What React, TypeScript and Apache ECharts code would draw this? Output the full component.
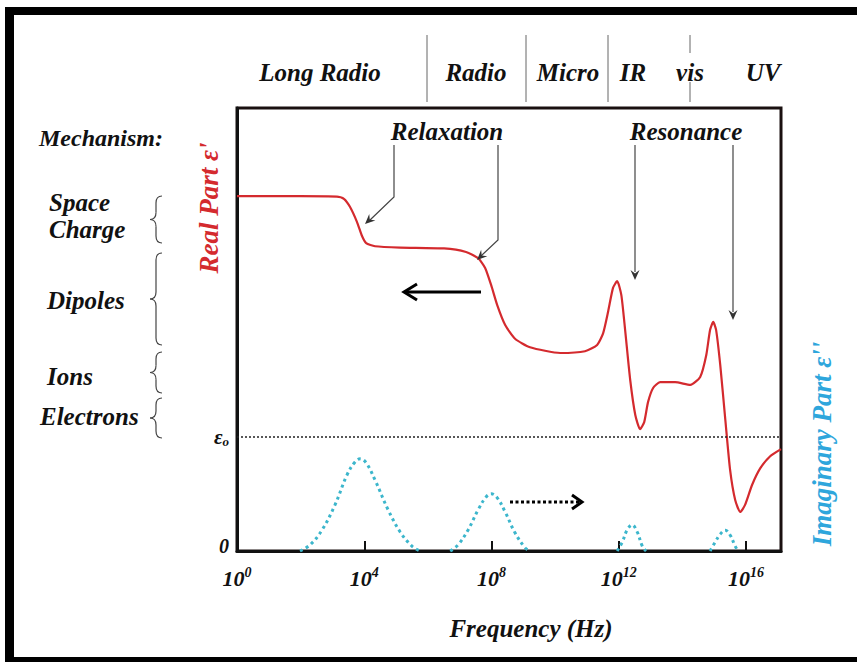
import React, { useEffect, useRef } from 'react';
import * as echarts from 'echarts';

// Frequency axis is in log10(Hz) exponents
const xTickExponents = [0, 4, 8, 12, 16];
const EPS0 = 25.7; // vacuum permittivity level (arbitrary units)

// Real part ε'
const realX = [0, 1.98, 3.14, 3.36, 3.55, 3.77, 3.93, 4.06, 4.34, 5.13, 6.51, 7.2, 7.58, 7.8, 7.99, 8.18, 8.43, 8.74, 9.21, 10.16, 10.94, 11.32, 11.51, 11.67, 11.82, 11.95, 12.08, 12.2, 12.36, 12.52, 12.67, 12.8, 12.92, 13.08, 13.3, 13.77, 14.25, 14.56, 14.75, 14.87, 14.97, 15.06, 15.19, 15.35, 15.5, 15.66, 15.82, 15.97, 16.19, 16.45, 16.76, 17.1];
const realY = [80.1, 80.1, 80.0, 79.5, 77.7, 74.3, 71.1, 69.5, 68.8, 68.5, 68.3, 67.5, 66.1, 63.9, 60.0, 55.5, 51.0, 47.9, 46.0, 44.7, 45.1, 46.5, 49.2, 54.2, 59.4, 60.9, 57.8, 49.9, 38.6, 30.7, 27.5, 29.1, 33.6, 36.8, 38.1, 38.1, 37.5, 39.3, 44.2, 49.9, 51.7, 49.9, 42.0, 29.6, 18.3, 11.5, 8.8, 10.4, 14.9, 18.7, 21.4, 23.0];

// Imaginary part ε'' (loss peaks)
const spaceChargeLossX = [1.98, 2.3, 2.67, 3.08, 3.46, 3.71, 3.87, 4.06, 4.34, 4.75, 5.13, 5.5, 5.75];
const spaceChargeLossY = [0, 1.4, 4.7, 10.4, 17.2, 20.1, 20.8, 19.9, 16.0, 9.3, 4.3, 1.1, 0];
const dipoleLossX = [6.7, 6.95, 7.26, 7.58, 7.83, 7.99, 8.18, 8.43, 8.74, 9.06, 9.21];
const dipoleLossY = [0, 1.4, 4.7, 9.3, 12.2, 12.9, 12.0, 8.8, 4.1, 0.7, 0];
const ionicLossX = [11.95, 12.11, 12.26, 12.42, 12.58, 12.74, 12.86];
const ionicLossY = [0, 2.0, 4.7, 5.9, 4.3, 1.1, 0];
const electronicLossX = [14.87, 15.03, 15.19, 15.35, 15.5, 15.66, 15.75];
const electronicLossY = [0, 2.0, 3.8, 4.7, 3.6, 1.1, 0];

const bandLabels = ['Long Radio', 'Radio', 'Micro', 'IR', 'vis', 'UV'];
const mechanismLabels = ['Space\nCharge', 'Dipoles', 'Ions', 'Electrons'];

const SERIF = 'Liberation Serif';
const RED = '#d42a2e';
const CYAN = '#3cb6cc';
const CYAN_TEXT = '#2ea6dc';

const F = (size: number) => ({ fontFamily: SERIF, fontSize: size, fontStyle: 'italic', fontWeight: 'bold' });

function zip(xs: number[], ys: number[]) {
  return xs.map((x, i) => [x, ys[i]]);
}

function head(tx: number, ty: number, fx: number, fy: number, len = 10, half = 4.5, color = '#333') {
  const dx = tx - fx, dy = ty - fy;
  const n = Math.hypot(dx, dy) || 1;
  const ux = dx / n, uy = dy / n;
  const px = -uy, py = ux;
  const bx = tx - ux * len, by = ty - uy * len;
  const nx = tx - ux * len * 0.65, ny = ty - uy * len * 0.65;
  return {
    type: 'polygon',
    shape: { points: [[tx, ty], [bx + px * half, by + py * half], [nx, ny], [bx - px * half, by - py * half]] },
    style: { fill: color },
    z: 20,
  };
}

function brace(xs: number, y1: number, y2: number) {
  const mid = (y1 + y2) / 2;
  const r = Math.min(7, (y2 - y1) / 5);
  const st = { stroke: '#444', lineWidth: 1.2, fill: 'none' };
  const w = 6;
  return [
    { type: 'bezierCurve', shape: { x1: xs + w, y1: y1, cpx1: xs + 1.5, cpy1: y1, cpx2: xs, cpy2: y1 + r * 0.4, x2: xs, y2: y1 + r }, style: st },
    { type: 'line', shape: { x1: xs, y1: y1 + r, x2: xs, y2: mid - r }, style: st },
    { type: 'bezierCurve', shape: { x1: xs, y1: mid - r, cpx1: xs, cpy1: mid - r * 0.4, cpx2: xs - 1.5, cpy2: mid, x2: xs - w, y2: mid }, style: st },
    { type: 'bezierCurve', shape: { x1: xs - w, y1: mid, cpx1: xs - 1.5, cpy1: mid, cpx2: xs, cpy2: mid + r * 0.4, x2: xs, y2: mid + r }, style: st },
    { type: 'line', shape: { x1: xs, y1: mid + r, x2: xs, y2: y2 - r }, style: st },
    { type: 'bezierCurve', shape: { x1: xs, y1: y2 - r, cpx1: xs, cpy1: y2 - r * 0.4, cpx2: xs + 1.5, cpy2: y2, x2: xs + w, y2: y2 }, style: st },
  ];
}

function txt(text: string, x: number, y: number, size: number, align = 'center', color = '#111', extra: any = {}) {
  return {
    type: 'text',
    x, y,
    style: {
      text,
      ...F(size),
      fill: color,
      align, verticalAlign: 'middle',
      textAlign: align, textVerticalAlign: 'middle',
      ...extra,
    },
    z: 30,
  };
}

export default function App() {
  const ref = useRef<HTMLDivElement>(null);

  useEffect(() => {
    document.body.style.margin = '0';
    const chart = echarts.init(ref.current!, null, { renderer: 'svg' });

    const lossSeries = [
      zip(spaceChargeLossX, spaceChargeLossY),
      zip(dipoleLossX, dipoleLossY),
      zip(ionicLossX, ionicLossY),
      zip(electronicLossX, electronicLossY),
    ].map((d) => ({
      type: 'line',
      data: d,
      smooth: 0.4,
      showSymbol: false,
      lineStyle: { color: CYAN, width: 3, type: [3, 3.5] },
      z: 3,
    }));

    const graphics: any[] = [];
    // outer frame
    graphics.push({ type: 'rect', shape: { x: 5, y: 7, width: 852, height: 8 }, style: { fill: '#000' } });
    graphics.push({ type: 'rect', shape: { x: 5, y: 7, width: 9, height: 655 }, style: { fill: '#000' } });
    graphics.push({ type: 'rect', shape: { x: 5, y: 657, width: 852, height: 5 }, style: { fill: '#000' } });

    // band separators
    const sep = { stroke: '#666', lineWidth: 1 };
    [427, 526, 608].forEach((x) => graphics.push({ type: 'line', shape: { x1: x, y1: 35, x2: x, y2: 102 }, style: sep }));
    graphics.push({ type: 'line', shape: { x1: 690, y1: 35, x2: 690, y2: 53 }, style: sep });
    graphics.push({ type: 'line', shape: { x1: 690, y1: 82, x2: 690, y2: 102 }, style: sep });
    const bandX = [320, 476, 568, 633, 690, 763];
    bandLabels.forEach((l, i) => graphics.push(txt(l, bandX[i], 72, 25)));

    // annotation texts
    graphics.push(txt('Relaxation', 447, 131, 25));
    graphics.push(txt('Resonance', 686, 131, 25));

    // thin arrows
    const thin = { stroke: '#444', lineWidth: 1.2, fill: 'none' };
    graphics.push({ type: 'polyline', shape: { points: [[394, 145], [394, 197], [370, 220]] }, style: thin, z: 20 });
    graphics.push(head(365, 224, 394, 197));
    graphics.push({ type: 'polyline', shape: { points: [[498, 145], [498, 240], [481, 256]] }, style: thin, z: 20 });
    graphics.push(head(477, 260, 498, 240));
    graphics.push({ type: 'line', shape: { x1: 635, y1: 145, x2: 635, y2: 272 }, style: thin, z: 20 });
    graphics.push(head(635, 280, 635, 145));
    graphics.push({ type: 'line', shape: { x1: 733, y1: 145, x2: 733, y2: 312 }, style: thin, z: 20 });
    graphics.push(head(733, 320, 733, 145));

    // thick left arrow
    graphics.push({ type: 'line', shape: { x1: 481, y1: 292, x2: 405, y2: 292 }, style: { stroke: '#000', lineWidth: 3 }, z: 20 });
    graphics.push({ type: 'polyline', shape: { points: [[417, 284], [404, 292], [417, 300]] }, style: { stroke: '#000', lineWidth: 3, fill: 'none' }, z: 20 });
    // dotted right arrow
    graphics.push({ type: 'line', shape: { x1: 510, y1: 502, x2: 579, y2: 502 }, style: { stroke: '#000', lineWidth: 3, lineDash: [3, 2.5] }, z: 20 });
    graphics.push({ type: 'polyline', shape: { points: [[572, 495], [582, 502], [572, 509]] }, style: { stroke: '#000', lineWidth: 3, fill: 'none' }, z: 20 });

    // left mechanism labels
    graphics.push(txt('Mechanism:', 39, 138, 24, 'left'));
    graphics.push(txt(mechanismLabels[0], 49, 216, 25, 'left', '#111', { lineHeight: 27 }));
    graphics.push(txt(mechanismLabels[1], 47, 300, 25, 'left'));
    graphics.push(txt(mechanismLabels[2], 47, 376, 25, 'left'));
    graphics.push(txt(mechanismLabels[3], 40, 416, 25, 'left'));
    graphics.push(...brace(156, 196, 243));
    graphics.push(...brace(156, 253, 345));
    graphics.push(...brace(156, 352, 393));
    graphics.push(...brace(156, 398, 438));

    // axis titles
    graphics.push({ ...txt("Real Part ε'", 209, 208, 27, 'center', RED), rotation: Math.PI / 2 });
    graphics.push({ ...txt("Imaginary Part ε''", 822, 444, 27, 'center', CYAN_TEXT), rotation: Math.PI / 2 });
    graphics.push(txt('Frequency (Hz)', 531, 628, 25));

    chart.setOption({
      animation: false,
      backgroundColor: '#fff',
      grid: {
        left: 237, top: 108, width: 544, height: 443,
        show: true, borderColor: '#1a1010', borderWidth: 3, backgroundColor: 'transparent',
      },
      xAxis: {
        type: 'value', min: 0, max: 17.1, interval: 4,
        axisLine: { show: true, lineStyle: { color: '#111', width: 3 } },
        axisTick: {
          show: true, inside: true, length: 10, lineStyle: { color: '#111', width: 2 },
        },
        axisLabel: {
          margin: 14,
          formatter: (v: number) => `{b|10}{s|${v}}`,
          rich: {
            b: { ...F(22), color: '#111', lineHeight: 26 },
            s: { ...F(14), color: '#111', lineHeight: 26, verticalAlign: 'top', padding: [0, 0, 9, 0] },
          },
        },
        splitLine: { show: false },
      },
      yAxis: {
        type: 'value', min: 0, max: 100, interval: EPS0,
        axisLine: { show: true, lineStyle: { color: '#111', width: 3 } },
        axisTick: { show: false },
        splitLine: { show: false },
        axisLabel: {
          margin: 8,
          formatter: (v: number) => (v === 0 ? '{n|0}' : Math.abs(v - EPS0) < 0.01 ? '{e|ε}{o|o}' : ''),
          rich: {
            n: { ...F(20), color: '#111', padding: [0, 0, 10, 0] },
            e: { ...F(21), color: '#111' },
            o: { ...F(13), color: '#111', padding: [9, 0, 0, 0] },
          },
        },
      },
      series: [
        {
          type: 'line',
          data: zip(realX, realY),
          smooth: 0.2,
          showSymbol: false,
          lineStyle: { color: RED, width: 2.2 },
          z: 4,
          markLine: {
            silent: true,
            symbol: 'none',
            label: { show: false },
            lineStyle: { color: '#222', width: 1.5, type: [2, 2] },
            data: [{ yAxis: EPS0 }],
          },
        },
        ...lossSeries,
      ],
      graphic: graphics,
    });

    return () => chart.dispose();
  }, []);

  return <div ref={ref} style={{ width: 857, height: 662, background: '#fff' }} />;
}
